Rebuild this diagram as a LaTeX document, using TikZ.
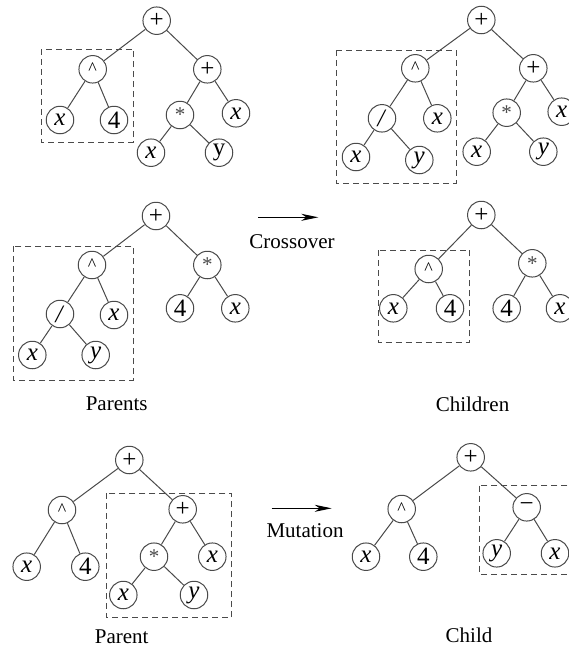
\documentclass[tikz,border=0pt]{standalone}
\usepackage{fontspec}
\setmainfont{Liberation Serif}
\newfontfamily\lblfont{Liberation Serif}
\usetikzlibrary{arrows.meta}
\definecolor{lnc}{HTML}{4A4A4A}
\tikzset{
  tn/.style={circle,draw=lnc,line width=1pt,minimum size=27.5pt,inner sep=0pt,fill=white,
    font=\lblfont\fontsize{25}{25}\selectfont},
  ed/.style={draw=lnc,line width=1pt},
  selbox/.style={draw=lnc,line width=1pt,dash pattern=on 6pt off 4pt},
  lbl/.style={font=\lblfont\fontsize{21}{24}\selectfont,inner sep=0pt},
  opar/.style={-{Stealth[length=17pt,width=7pt,inset=5pt]},line width=1.1pt,black}
}
\newcommand{\vx}{\textit{x}}
\newcommand{\vy}{\textit{y}}
\newcommand{\crtk}{\raisebox{1pt}{\fontsize{18}{18}\selectfont\textasciicircum}}
\newcommand{\astk}{\raisebox{-3pt}{\color{lnc}\fontsize{21}{21}\selectfont *}}
\begin{document}
\begin{tikzpicture}[x=1pt,y=-1pt]
\useasboundingbox (0,0) rectangle (569,651);
\clip (0,0) rectangle (569,651);
% ---------- Tree A (top left)
\draw[selbox] (41.7,49) rectangle (133.3,142.3);
\node[tn] (a1) at (156.7,20.7) {+};
\node[tn] (a2) at (92.7,69.3) {\crtk};
\node[tn] (a3) at (60,120) {\vx};
\node[tn] (a4) at (114,120) {4};
\node[tn] (a5) at (207.3,69.3) {+};
\node[tn] (a6) at (180,115) {\astk};
\node[tn] (a7) at (236,113.3) {\vx};
\node[tn] (a8) at (151,152.7) {\vx};
\node[tn] (a9) at (219,152.7) {y};
\foreach \p/\c in {a1/a2,a1/a5,a2/a3,a2/a4,a5/a6,a5/a7,a6/a8,a6/a9}
  \draw[ed] (\p) -- (\c);
% ---------- Tree B (top right)
\draw[selbox] (336.7,50) rectangle (456,183.3);
\node[tn] (b1) at (481.3,20) {+};
\node[tn] (b2) at (415.3,68.3) {\crtk};
\node[tn] (b3) at (382,118.3) {\textit{/}};
\node[tn] (b4) at (437.3,118.3) {\vx};
\node[tn] (b5) at (356,157) {\vx};
\node[tn] (b6) at (419.3,160) {\vy};
\node[tn] (b7) at (533.3,68.3) {+};
\node[tn] (b8) at (506.7,112.7) {\astk};
\node[tn] (b9) at (561.7,111.7) {\vx};
\node[tn] (b10) at (476.7,151.7) {\vx};
\node[tn] (b11) at (543.3,151.7) {\vy};
\foreach \p/\c in {b1/b2,b1/b7,b2/b3,b2/b4,b3/b5,b3/b6,b7/b8,b7/b9,b8/b10,b8/b11}
  \draw[ed] (\p) -- (\c);
% ---------- Tree C (middle left)
\draw[selbox] (13.3,246) rectangle (133.3,380);
\node[tn] (c1) at (156,216) {+};
\node[tn] (c2) at (92,265) {\crtk};
\node[tn] (c3) at (60,314) {\textit{/}};
\node[tn] (c4) at (114,315) {\vx};
\node[tn] (c5) at (32.3,355) {\vx};
\node[tn] (c6) at (95.7,355) {\vy};
\node[tn] (c7) at (207.3,265) {\astk};
\node[tn] (c8) at (180,308.3) {4};
\node[tn] (c9) at (235.3,308.3) {\vx};
\foreach \p/\c in {c1/c2,c1/c7,c2/c3,c2/c4,c3/c5,c3/c6,c7/c8,c7/c9}
  \draw[ed] (\p) -- (\c);
% ---------- Tree D (middle right)
\draw[selbox] (378.3,250) rectangle (469.3,342.7);
\node[tn] (d1) at (481.3,215) {+};
\node[tn] (d2) at (428.7,269) {\crtk};
\node[tn] (d3) at (393.3,308.3) {\vx};
\node[tn] (d4) at (450,308.3) {4};
\node[tn] (d5) at (532.3,263.3) {\astk};
\node[tn] (d6) at (506.7,308.3) {4};
\node[tn] (d7) at (560,308.3) {\vx};
\foreach \p/\c in {d1/d2,d1/d5,d2/d3,d2/d4,d5/d6,d5/d7}
  \draw[ed] (\p) -- (\c);
% ---------- Tree E (bottom left)
\draw[selbox] (106,493.3) rectangle (231.7,617.3);
\node[tn] (e1) at (129.3,460) {+};
\node[tn] (e2) at (62,510) {\crtk};
\node[tn] (e3) at (26.7,566.7) {\vx};
\node[tn] (e4) at (85.3,566.7) {4};
\node[tn] (e5) at (182.7,509.3) {+};
\node[tn] (e6) at (154,556.7) {\astk};
\node[tn] (e7) at (212.3,556.7) {\vx};
\node[tn] (e8) at (123.3,595) {\vx};
\node[tn] (e9) at (194,595) {\vy};
\foreach \p/\c in {e1/e2,e1/e5,e2/e3,e2/e4,e5/e6,e5/e7,e6/e8,e6/e9}
  \draw[ed] (\p) -- (\c);
% ---------- Tree F (bottom right)
\draw[selbox] (479.3,485.7) rectangle (580,574);
\node[tn] (f1) at (470.7,457.3) {+};
\node[tn] (f2) at (401.7,509) {\crtk};
\node[tn] (f3) at (366,556.7) {\vx};
\node[tn] (f4) at (423.3,556.7) {4};
\node[tn] (f5) at (526.7,507.3) {\textminus};
\node[tn] (f6) at (496.7,553.3) {\vy};
\node[tn] (f7) at (555,553.3) {\vx};
\foreach \p/\c in {f1/f2,f1/f5,f2/f3,f2/f4,f5/f6,f5/f7}
  \draw[ed] (\p) -- (\c);
% ---------- operations and labels
\coordinate (cs) at (258.3,217.3);
\coordinate (ce) at (318.3,217.3);
\draw[opar] (cs) -- (ce);
\node[lbl] (cross) at (292,241.5) {Crossover};
\coordinate (ms) at (271.7,508.3);
\coordinate (me) at (331.7,508.3);
\draw[opar] (ms) -- (me);
\node[lbl] (mut) at (305,530.5) {Mutation};
\node[lbl] (parents) at (116.7,404) {Parents};
\node[lbl] (children) at (472.5,404) {Children};
\node[lbl] (parent) at (121.7,637) {Parent};
\node[lbl] (child) at (469,635) {Child};
\end{tikzpicture}
\end{document}
